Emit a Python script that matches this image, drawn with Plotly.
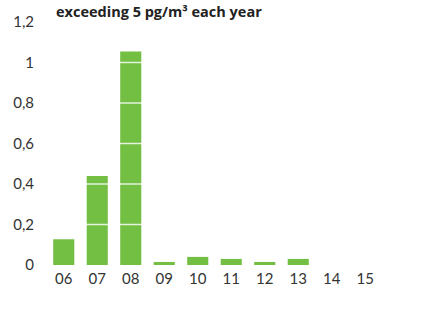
import plotly.graph_objects as go

years = ["06", "07", "08", "09", "10", "11", "12", "13", "14", "15"]
values = [0.127, 0.44, 1.054, 0.015, 0.04, 0.03, 0.015, 0.03, 0, 0]
y_ticks = [0, 0.2, 0.4, 0.6, 0.8, 1, 1.2]
title_text = "exceeding 5 pg/m³ each year"

GREEN = "#72bf44"
TXT = "#333333"

fig = go.Figure()
fig.add_trace(go.Bar(x=years, y=values, marker=dict(color=GREEN, line=dict(width=0)),
                     width=0.63))

for t in y_ticks[1:]:
    fig.add_shape(type="line", xref="paper", yref="y", x0=0, x1=1, y0=t, y1=t,
                  line=dict(color="rgba(255,255,255,0.8)", width=1.5), layer="above")

fig.add_annotation(text="<b>" + title_text + "</b>", xref="paper", yref="paper",
                   x=0.022, y=1.0, yshift=-1, xanchor="left", yanchor="bottom", showarrow=False,
                   font=dict(size=14.5, color="#222222", family="Open Sans, sans-serif"))

fig.update_layout(
    width=421, height=335,
    margin=dict(l=47, r=39, t=19, b=70),
    paper_bgcolor="white", plot_bgcolor="white",
    separators=", ",
    showlegend=False,
    font=dict(family="Lato, sans-serif", size=15, color=TXT),
    xaxis=dict(type="category", range=[-0.5, 9.5], showgrid=False, showline=False,
               zeroline=False, ticks="", ticklabelstandoff=3,
               tickfont=dict(size=15, color=TXT)),
    yaxis=dict(range=[0, 1.2], tickvals=y_ticks, showgrid=False, zeroline=False,
               showline=False, ticks="", ticklabelstandoff=12,
               tickfont=dict(size=15, color=TXT)),
)

fig.write_html("out.html")
